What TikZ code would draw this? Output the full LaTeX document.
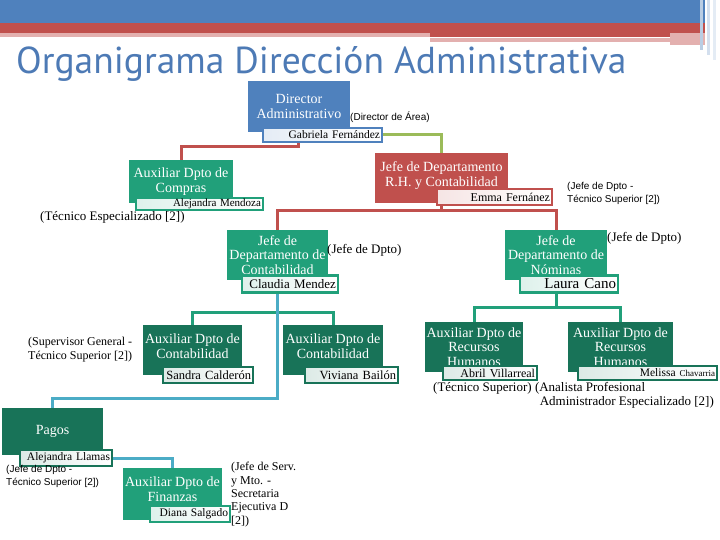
\documentclass[tikz,border=0pt]{standalone}
\usepackage{fontspec}
\setmainfont{Liberation Serif}
\newfontfamily\notefont{Liberation Sans}
\newfontfamily\titlefont{PT Sans}
\usetikzlibrary{calc}
\definecolor{dirblue}{RGB}{79,129,189}
\definecolor{rhred}{RGB}{192,80,77}
\definecolor{olivelink}{RGB}{155,187,89}
\definecolor{tealbox}{RGB}{33,160,122}
\definecolor{darkbox}{RGB}{24,115,88}
\definecolor{skylink}{RGB}{75,172,198}
\definecolor{titleblue}{RGB}{77,122,181}
\newcommand{\boxfont}{\fontsize{14}{14.5}\selectfont}
\newcommand{\tabfont}{\fontsize{11.5}{12}\selectfont}
\newcommand{\notesans}{\notefont\fontsize{10}{13}\selectfont}
\newcommand{\noteserif}{\fontsize{13}{14}\selectfont}
\tikzset{
  unitbox/.style={fill=#1, text=white, inner sep=1pt, align=center, font=\boxfont},
  nametab/.style={draw=#1, line width=2.5pt, left color=#1!15, right color=white,
    inner xsep=2pt, inner ysep=0pt, align=right, font=\tabfont},
  link/.style={draw=#1, line width=3pt},
  note/.style={inner sep=0pt, align=left, font=\noteserif},
}

\begin{document}
\begin{tikzpicture}[x=1pt,y=-1pt]
			%%%%% START %%%%%
			\useasboundingbox (0,0) rectangle (720,540);
			
			% bands on top
			\fill[dirblue] (0,0) rectangle (705,23);
			\fill[rhred] (0,23) rectangle (705,33);
			\fill[rhred] (430,33) rectangle (670,37);
			\fill[rhred!45] (0,33) rectangle (430,37);
			\fill[rhred!45] (430,38) rectangle (670,42);
			\fill[rhred!45] (670,33) rectangle (705,45);
			\fill[dirblue!40] (700,0) rectangle (703,50);
			\fill[dirblue!25] (707,0) rectangle (710,55);
			\fill[dirblue!15] (713,0) rectangle (716,60);
			
			\node[anchor=base west, inner sep=0pt, text=titleblue, font=\titlefont\fontsize{37.5}{38}\selectfont] (title) at (16,74) {Organigrama Dirección Administrativa};
			
			% director
			\node[unitbox=dirblue, minimum width=102pt, minimum height=51pt] (director) at (299,106.5) {Director\\Administrativo};
			\node[nametab=dirblue, text width=115pt, minimum height=14pt] (gabriela) at (322.5,135) {Gabriela Fernández};
			\node[note, font=\notesans, anchor=west] (areanote) at (350,117) {(Director de Área)};
			
			% compras
			\node[unitbox=tealbox, minimum width=104pt, minimum height=43pt] (compras) at (181,181.5) {Auxiliar Dpto de\\Compras};
			\node[nametab=tealbox, text width=123pt, minimum height=12pt, font=\fontsize{11}{11}\selectfont] (amendoza) at (199.5,204) {Alejandra Mendoza};
			\node[note, anchor=west] (comprasnote) at (40,217) {(Técnico Especializado [2])};
			
			% R.H. y Contabilidad
			\node[unitbox=rhred, minimum width=133pt, minimum height=50pt, text depth=8pt] (rhjefe) at (441.5,178) {Jefe de Departamento\\R.H. y Contabilidad};
			\node[nametab=rhred, text width=111pt, minimum height=16pt, font=\fontsize{12}{12}\selectfont] (emma) at (494.5,197) {Emma Fernánez};
			\node[note, font=\notesans, anchor=west] (rhnote) at (567,193) {(Jefe de Dpto -\\Técnico Superior [2])};
			
			% contabilidad
			\node[unitbox=tealbox, minimum width=101pt, minimum height=50pt] (contjefe) at (277.5,255) {Jefe de\\Departamento de\\Contabilidad};
			\node[nametab=tealbox, text width=92pt, minimum height=17pt, font=\fontsize{13}{13}\selectfont] (claudia) at (290,284) {Claudia Mendez};
			\node[note, anchor=west] (contnote) at (327,250) {(Jefe de Dpto)};
			
			% nominas
			\node[unitbox=tealbox, minimum width=102pt, minimum height=50pt] (nomjefe) at (556,255) {Jefe de\\Departamento de\\Nóminas};
			\node[nametab=tealbox, text width=94pt, minimum height=17pt, font=\fontsize{15}{15}\selectfont] (laura) at (569,284) {Laura Cano};
			\node[note, anchor=west] (nomnote) at (607,238) {(Jefe de Dpto)};
			
			% auxiliares contabilidad
			\node[unitbox=darkbox, minimum width=99pt, minimum height=50pt, text depth=8pt] (auxcontA) at (192.5,350) {Auxiliar Dpto de\\Contabilidad};
			\node[nametab=darkbox, text width=86pt, minimum height=16pt, font=\fontsize{12.5}{13}\selectfont] (sandra) at (208,375) {Sandra Calderón};
			\node[unitbox=darkbox, minimum width=100pt, minimum height=50pt, text depth=8pt] (auxcontB) at (333,350) {Auxiliar Dpto de\\Contabilidad};
			\node[nametab=darkbox, text width=89pt, minimum height=16pt, font=\fontsize{12.5}{13}\selectfont] (viviana) at (351.5,375) {Viviana Bailón};
			\node[note, anchor=west, font=\fontsize{12}{14}\selectfont] (auxcontnote) at (28,350) {(Supervisor General -\\Técnico Superior [2])};
			
			% auxiliares recursos humanos
			\node[unitbox=darkbox, minimum width=98pt, minimum height=50pt] (auxrhA) at (474,347) {Auxiliar Dpto de\\Recursos\\Humanos};
			\node[nametab=darkbox, text width=90pt, minimum height=14pt, font=\fontsize{12}{12}\selectfont] (abril) at (490,373) {Abril Villarreal};
			\node[unitbox=darkbox, minimum width=105pt, minimum height=50pt] (auxrhB) at (620.5,347) {Auxiliar Dpto de\\Recursos\\Humanos};
			\node[nametab=darkbox, text width=135pt, minimum height=14pt, font=\fontsize{11.5}{12}\selectfont] (melissa) at (647.5,373) {Melissa {\fontsize{9}{9}\selectfont Chavarria}};
			\node[note, anchor=west] (auxrhnoteA) at (433,388) {(Técnico Superior) (Analista Profesional};
			\node[note, anchor=east] (auxrhnoteB) at (714,402) {Administrador Especializado [2])};
			
			% pagos
			\node[unitbox=darkbox, minimum width=101pt, minimum height=47pt] (pagos) at (52.5,431.5) {Pagos};
			\node[nametab=darkbox, text width=88pt, minimum height=16pt] (llamas) at (66,458) {Alejandra Llamas};
			\node[note, font=\notesans, anchor=west] (pagosnote) at (6,476) {(Jefe de Dpto -\\Técnico Superior [2])};
			
			% finanzas
			\node[unitbox=tealbox, minimum width=99pt, minimum height=52pt, text depth=10pt] (finanzas) at (172.5,494) {Auxiliar Dpto de\\Finanzas};
			\node[nametab=tealbox, text width=76pt, minimum height=16pt] (diana) at (190,514) {Diana Salgado};
			\node[note, anchor=west, font=\fontsize{12}{13.3}\selectfont] (finnote) at (231,494.5) {(Jefe de Serv.\\y Mto. -\\Secretaria\\Ejecutiva D\\{[2])}};
			
			% links
			\coordinate (dirsplit) at (298,147);
			\draw[link=rhred] (gabriela.south -| dirsplit) -- (dirsplit) -| (compras.north);
			\draw[link=olivelink] (gabriela.east) -| (rhjefe.north);
			
			\coordinate (rhsplit) at (441.5,211);
			\draw[link=rhred] (emma.south -| rhsplit) -- (rhsplit) -| (contjefe.north);
			\draw[link=rhred] (rhsplit) -| (nomjefe.north);
			
			\coordinate (contsplit) at (277.5,312);
			\coordinate (pagosbend) at (277.5,398);
			\draw[link=tealbox] (contsplit) -| (auxcontA.north);
			\draw[link=tealbox] (contsplit) -| (auxcontB.north);
			\draw[link=skylink] (claudia.south -| contjefe.south) -- (pagosbend) -| (pagos.north);
			
			\coordinate (nomsplit) at (556,307);
			\draw[link=tealbox] (laura.south -| nomjefe.south) -- (nomsplit) -| (auxrhA.north);
			\draw[link=tealbox] (nomsplit) -| (auxrhB.north);
			
			\draw[link=skylink] (llamas.east) -| (finanzas.north);
			
			%%%%% END %%%%%
\end{tikzpicture}
\end{document}
